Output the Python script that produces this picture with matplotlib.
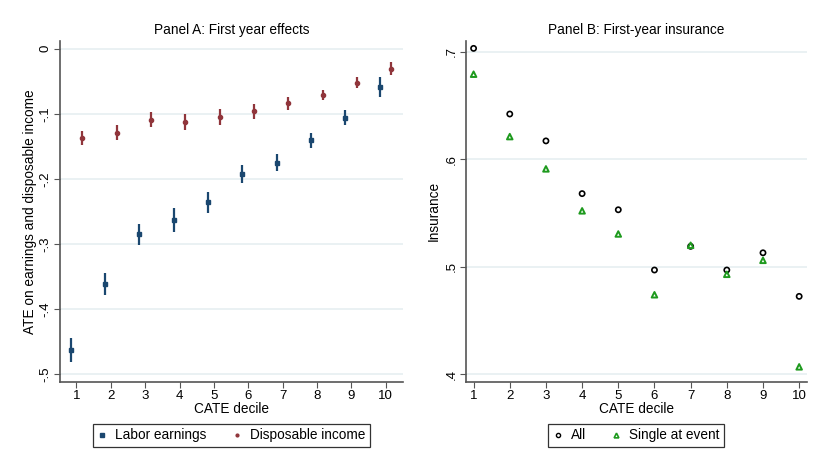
import matplotlib
matplotlib.use("Agg")
import matplotlib.pyplot as plt
from matplotlib.lines import Line2D
import numpy as np

deciles = np.arange(1, 11)
labor = [-0.463, -0.361, -0.285, -0.263, -0.236, -0.192, -0.175, -0.141, -0.106, -0.059]
labor_ci = [0.018, 0.017, 0.016, 0.018, 0.016, 0.014, 0.0125, 0.011, 0.011, 0.015]
dispinc = [-0.137, -0.129, -0.109, -0.113, -0.105, -0.0965, -0.084, -0.071, -0.052, -0.031]
dispinc_ci = [0.011, 0.011, 0.011, 0.012, 0.012, 0.011, 0.010, 0.008, 0.008, 0.010]
ins_all = [0.703, 0.642, 0.617, 0.568, 0.553, 0.497, 0.519, 0.497, 0.513, 0.4725]
ins_single = [0.679, 0.621, 0.591, 0.552, 0.5305, 0.474, 0.520, 0.493, 0.506, 0.407]

navy = '#1a476f'
maroon = '#90353b'
green = '#1e9a1e'
grid_c = '#e6eff1'
spine_c = '#555555'

plt.rcParams['font.family'] = ['Liberation Sans', 'DejaVu Sans']

fig = plt.figure(figsize=(8.3, 4.75), dpi=100)
axA = fig.add_axes([0.0723, 0.196, 0.413, 0.718])
axB = fig.add_axes([0.561, 0.196, 0.411, 0.718])

def style(ax):
    for s in ['top', 'right']:
        ax.spines[s].set_visible(False)
    for s in ['left', 'bottom']:
        ax.spines[s].set_color(spine_c)
        ax.spines[s].set_linewidth(1.2)
    ax.tick_params(direction='out', length=4, color=spine_c, labelsize=9.5, pad=2)
    ax.tick_params(axis='y', labelrotation=90)
    for lab in ax.get_yticklabels():
        lab.set_va('center')
    ax.yaxis.grid(True, color=grid_c, linewidth=1.2)
    ax.set_axisbelow(True)

def legend(ax, handles, labels):
    leg = ax.legend(handles, labels, loc='center', bbox_to_anchor=(0.5, -0.157),
                    ncol=2, fontsize=9.8, frameon=True, fancybox=False,
                    edgecolor='black', handlelength=0.7, handletextpad=0.6,
                    columnspacing=1.9, borderpad=0.35)
    leg.get_frame().set_linewidth(0.9)

# Panel A
off = 0.17
axA.errorbar(deciles - off, labor, yerr=labor_ci, fmt='s', color=navy, ms=3.5,
             elinewidth=1.6, capsize=0)
axA.errorbar(deciles + off, dispinc, yerr=dispinc_ci, fmt='o', color=maroon, ms=3,
             elinewidth=1.6, capsize=0)
axA.set_xlim(0.52, 10.5)
axA.set_ylim(-0.512, 0.012)
axA.set_xticks(deciles)
axA.set_yticks([0, -0.1, -0.2, -0.3, -0.4, -0.5])
axA.set_yticklabels(['0', '-.1', '-.2', '-.3', '-.4', '-.5'])
style(axA)
axA.set_xlabel('CATE decile', fontsize=9.8, labelpad=0)
axA.set_ylabel('ATE on earnings and disposable income', fontsize=9.8, labelpad=2)
axA.set_title('Panel A: First year effects', fontsize=9.8, pad=5)
legend(axA,
       [Line2D([], [], ls='none', marker='s', ms=2.3, color=navy),
        Line2D([], [], ls='none', marker='o', ms=2.0, color=maroon)],
       ['Labor earnings', 'Disposable income'])

# Panel B
axB.scatter(deciles, ins_all, marker='o', s=14, facecolors='none',
            edgecolors='black', linewidths=1.2)
axB.scatter(deciles, ins_single, marker='^', s=16, facecolors='none',
            edgecolors=green, linewidths=1.4)
axB.set_xlim(0.78, 10.21)
axB.set_ylim(0.393, 0.71)
axB.set_xticks(deciles)
axB.set_yticks([0.4, 0.5, 0.6, 0.7])
axB.set_yticklabels(['.4', '.5', '.6', '.7'])
style(axB)
axB.set_xlabel('CATE decile', fontsize=9.8, labelpad=0)
axB.set_ylabel('Insurance', fontsize=9.8, labelpad=3)
axB.set_title('Panel B: First-year insurance', fontsize=9.8, pad=5)
legend(axB,
       [Line2D([], [], ls='none', marker='o', ms=3.0, mfc='none', mec='black', mew=1.0),
        Line2D([], [], ls='none', marker='^', ms=3.4, mfc='none', mec=green, mew=1.2)],
       ['All', 'Single at event'])

fig.savefig('out.png', dpi=100)
